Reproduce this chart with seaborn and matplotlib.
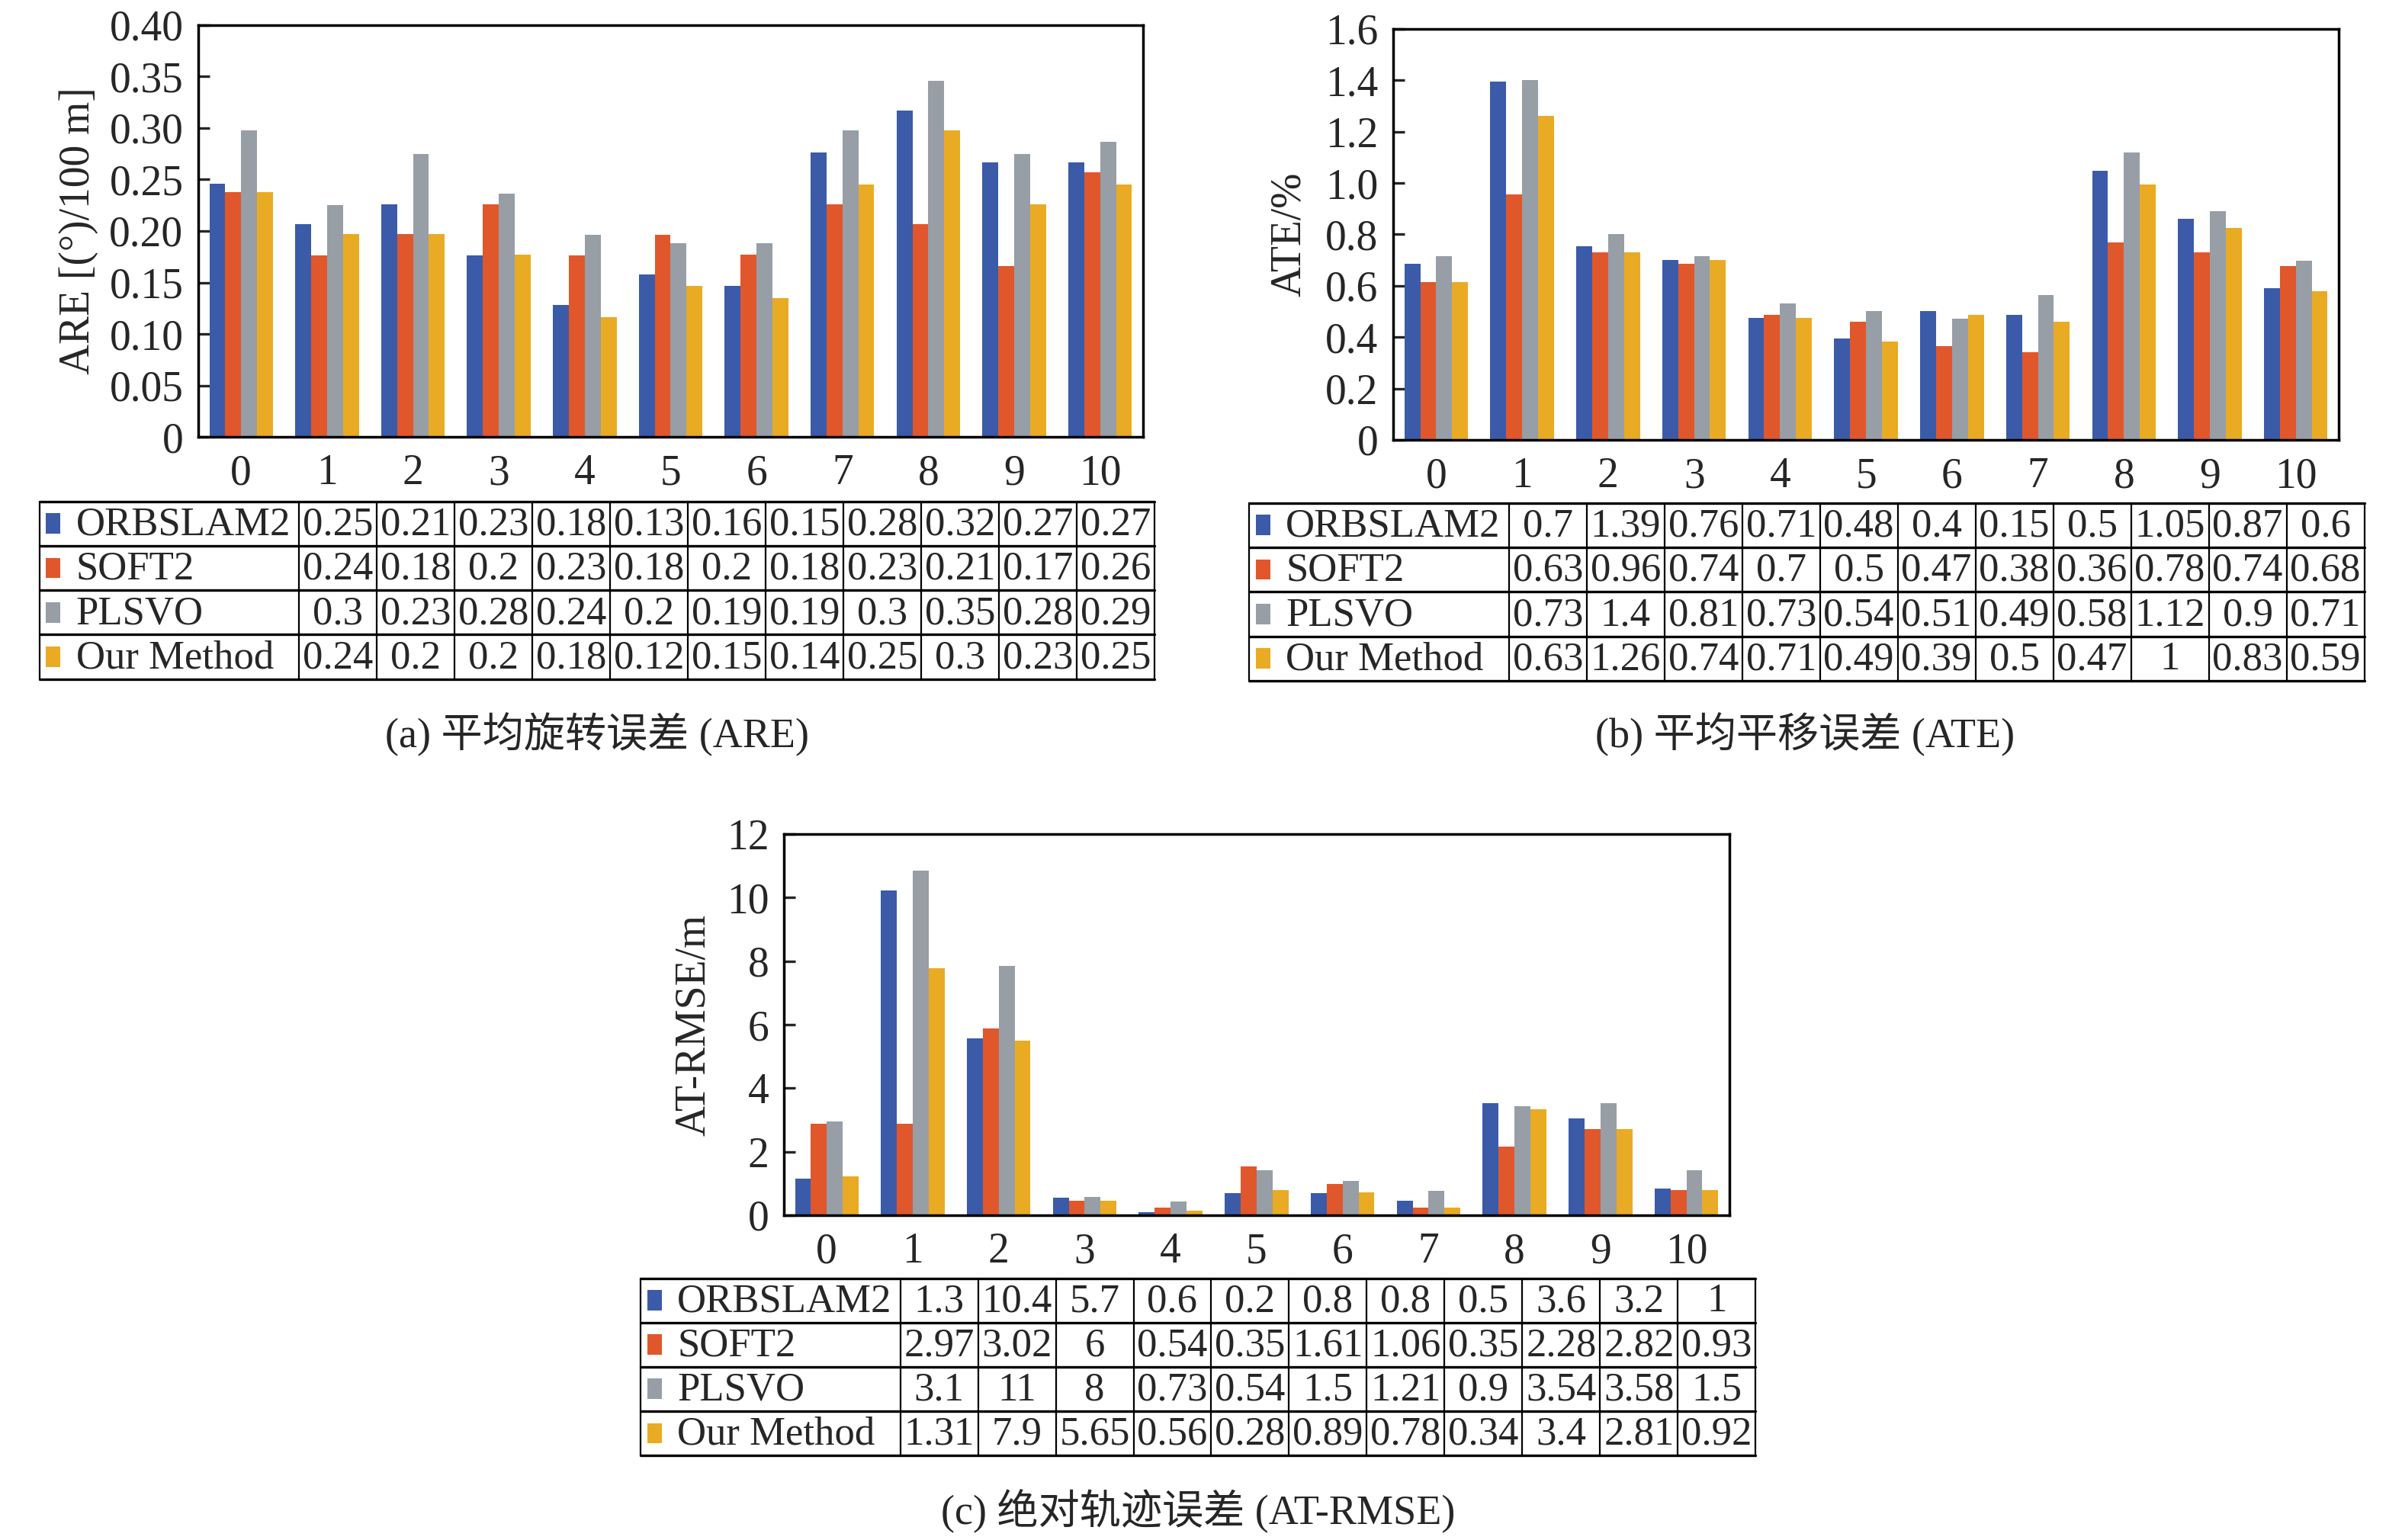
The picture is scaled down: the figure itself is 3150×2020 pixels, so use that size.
import matplotlib
matplotlib.use('Agg')
import matplotlib.pyplot as plt
from matplotlib.patches import Rectangle
import seaborn as sns
import numpy as np
import pandas as pd

# sequences and methods
seqs = ['0', '1', '2', '3', '4', '5', '6', '7', '8', '9', '10']
methods = ['ORBSLAM2', 'SOFT2', 'PLSVO', 'Our Method']
colors = ['#3B5BA8', '#E0572C', '#979EA6', '#E9AB23']

# (a) ARE bar heights
are_orb = [0.246, 0.207, 0.226, 0.176, 0.128, 0.158, 0.147, 0.276, 0.317, 0.267, 0.267]
are_soft = [0.238, 0.176, 0.197, 0.226, 0.176, 0.196, 0.177, 0.226, 0.207, 0.166, 0.257]
are_pls = [0.298, 0.225, 0.275, 0.236, 0.196, 0.188, 0.188, 0.298, 0.346, 0.275, 0.287]
are_our = [0.238, 0.197, 0.197, 0.177, 0.116, 0.147, 0.135, 0.245, 0.298, 0.226, 0.245]

# (b) ATE bar heights
ate_orb = [0.685, 1.395, 0.755, 0.70, 0.474, 0.395, 0.50, 0.486, 1.048, 0.861, 0.592]
ate_soft = [0.615, 0.956, 0.73, 0.686, 0.486, 0.459, 0.366, 0.341, 0.768, 0.73, 0.678]
ate_pls = [0.715, 1.40, 0.80, 0.715, 0.53, 0.50, 0.472, 0.565, 1.118, 0.889, 0.698]
ate_our = [0.615, 1.262, 0.73, 0.70, 0.474, 0.382, 0.486, 0.459, 0.995, 0.824, 0.58]

# (c) AT-RMSE bar heights
rmse_orb = [1.15, 10.22, 5.58, 0.54, 0.10, 0.70, 0.70, 0.45, 3.53, 3.05, 0.85]
rmse_soft = [2.87, 2.87, 5.87, 0.45, 0.24, 1.53, 0.98, 0.24, 2.15, 2.72, 0.80]
rmse_pls = [2.95, 10.85, 7.85, 0.58, 0.44, 1.41, 1.07, 0.76, 3.42, 3.53, 1.41]
rmse_our = [1.22, 7.78, 5.50, 0.45, 0.14, 0.79, 0.72, 0.24, 3.33, 2.72, 0.79]

# table texts as printed under each chart
are_table = [
    ['0.25', '0.21', '0.23', '0.18', '0.13', '0.16', '0.15', '0.28', '0.32', '0.27', '0.27'],
    ['0.24', '0.18', '0.2', '0.23', '0.18', '0.2', '0.18', '0.23', '0.21', '0.17', '0.26'],
    ['0.3', '0.23', '0.28', '0.24', '0.2', '0.19', '0.19', '0.3', '0.35', '0.28', '0.29'],
    ['0.24', '0.2', '0.2', '0.18', '0.12', '0.15', '0.14', '0.25', '0.3', '0.23', '0.25']]
ate_table = [
    ['0.7', '1.39', '0.76', '0.71', '0.48', '0.4', '0.15', '0.5', '1.05', '0.87', '0.6'],
    ['0.63', '0.96', '0.74', '0.7', '0.5', '0.47', '0.38', '0.36', '0.78', '0.74', '0.68'],
    ['0.73', '1.4', '0.81', '0.73', '0.54', '0.51', '0.49', '0.58', '1.12', '0.9', '0.71'],
    ['0.63', '1.26', '0.74', '0.71', '0.49', '0.39', '0.5', '0.47', '1', '0.83', '0.59']]
rmse_table = [
    ['1.3', '10.4', '5.7', '0.6', '0.2', '0.8', '0.8', '0.5', '3.6', '3.2', '1'],
    ['2.97', '3.02', '6', '0.54', '0.35', '1.61', '1.06', '0.35', '2.28', '2.82', '0.93'],
    ['3.1', '11', '8', '0.73', '0.54', '1.5', '1.21', '0.9', '3.54', '3.58', '1.5'],
    ['1.31', '7.9', '5.65', '0.56', '0.28', '0.89', '0.78', '0.34', '3.4', '2.81', '0.92']]

sns.set_style('white')
plt.rcParams['font.family'] = ['Liberation Serif', 'Noto Sans CJK SC']

FS = 40


def make_df(series):
    rows = []
    for m, vals in zip(methods, series):
        for s, v in zip(seqs, vals):
            rows.append({'seq': s, 'method': m, 'value': v})
    return pd.DataFrame(rows)


def draw_bars(ax, series, top, step, fmt, ylabel, label_x):
    df = make_df(series)
    sns.barplot(data=df, x='seq', y='value', hue='method', order=seqs,
                hue_order=methods, palette=colors, width=0.74, saturation=1,
                linewidth=0, errorbar=None, legend=False, ax=ax)
    ax.set_xlim(-0.5, 10.5)
    ax.set_ylim(0, top)
    ticks = np.arange(0, top + step / 2, step)
    ax.set_yticks(ticks)
    ax.set_yticklabels(['0'] + [fmt.format(t) for t in ticks[1:]])
    ax.set_xticks(range(11))
    ax.set_xticks(np.arange(0.5, 10, 1), minor=True)
    ax.tick_params(axis='x', which='major', length=0, pad=16, labelsize=FS)
    ax.tick_params(axis='x', which='minor', direction='in', length=11, width=2.4)
    ax.tick_params(axis='y', direction='in', length=11, width=2.4, pad=14, labelsize=FS, left=True)
    ax.set_xlabel('')
    ax.set_ylabel(ylabel, fontsize=FS)
    ax.yaxis.set_label_coords(label_x, 0.5)
    for sp in ax.spines.values():
        sp.set_visible(True)
        sp.set_color('black')
        sp.set_linewidth(2.5)


def draw_table(tax, rows):
    tax.set_xlim(0, 1)
    tax.set_ylim(4, 0)
    tax.axis('off')
    c0 = 0.233
    cw = (1 - c0) / 11
    edges = [0] + [c0 + i * cw for i in range(12)]
    for y in range(5):
        tax.plot([0, 1], [y, y], color='black', lw=2.4, clip_on=False)
    for x in edges:
        tax.plot([x, x], [0, 4], color='black', lw=1.6, clip_on=False)
    for r, (m, vals) in enumerate(zip(methods, rows)):
        tax.add_patch(Rectangle((0.006, r + 0.27), 0.013, 0.46, color=colors[r], lw=0))
        tax.text(0.033, r + 0.53, m, ha='left', va='center', fontsize=38)
        for i, v in enumerate(vals):
            tax.text(c0 + (i + 0.5) * cw, r + 0.53, v, ha='center', va='center', fontsize=38)


fig = plt.figure(figsize=(31.5, 20.2), dpi=100)

ax_a = fig.add_axes([0.0825, 0.7163, 0.3934, 0.2674])
draw_bars(ax_a, [are_orb, are_soft, are_pls, are_our], 0.40, 0.05, '{:.2f}',
          'ARE [(°)/100 m]', -0.106)
tab_a = fig.add_axes([0.0164, 0.559, 0.4643, 0.1155])
draw_table(tab_a, are_table)
fig.text(0.2485, 0.523, '(a) 平均旋转误差 (ARE)', ha='center', va='center', fontsize=39)

ax_b = fig.add_axes([0.580, 0.7144, 0.3937, 0.2668])
draw_bars(ax_b, [ate_orb, ate_soft, ate_pls, ate_our], 1.6, 0.2, '{:.1f}',
          'ATE/%', -0.089)
tab_b = fig.add_axes([0.520, 0.558, 0.4643, 0.1155])
draw_table(tab_b, ate_table)
fig.text(0.7514, 0.523, '(b) 平均平移误差 (ATE)', ha='center', va='center', fontsize=39)

ax_c = fig.add_axes([0.3263, 0.2109, 0.3937, 0.2475])
draw_bars(ax_c, [rmse_orb, rmse_soft, rmse_pls, rmse_our], 12, 2, '{:.0f}',
          'AT-RMSE/m', -0.074)
tab_c = fig.add_axes([0.2666, 0.055, 0.4643, 0.115])
draw_table(tab_c, rmse_table)
fig.text(0.4987, 0.019, '(c) 绝对轨迹误差 (AT-RMSE)', ha='center', va='center', fontsize=39)

fig.savefig('out.png', dpi=100, facecolor='white')
